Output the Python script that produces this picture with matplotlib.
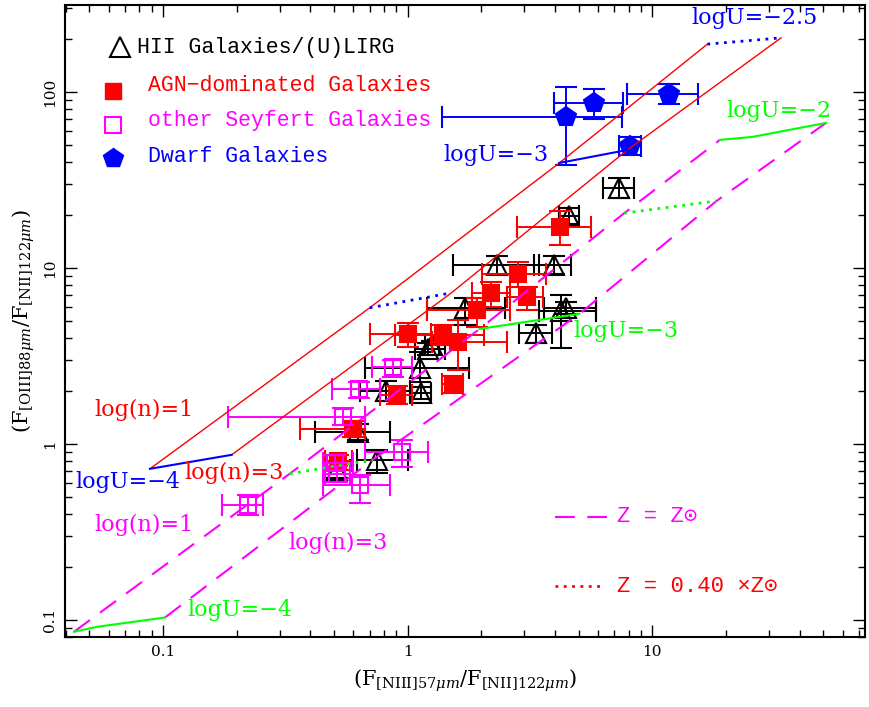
import numpy as np
import matplotlib
matplotlib.use('Agg')
import matplotlib.pyplot as plt
from matplotlib.ticker import FixedLocator, LogLocator, NullFormatter

plt.rcParams['mathtext.fontset'] = 'dejavuserif'

# ---------------- data ----------------
# HII galaxies / (U)LIRG  (x = NIII57/NII122, y = OIII88/NII122)
hii_x   = [7.33, 4.58, 2.31, 3.98, 1.72, 4.25, 4.46, 3.36, 1.21, 1.26, 1.12, 0.813, 1.13, 0.625, 0.747, 0.513]
hii_xlo = [6.31, 4.17, 1.53, 3.30, 1.20, 3.46, 3.62, 2.86, 1.07, 1.18, 0.668, 0.637, 1.02, 0.417, 0.619, 0.458]
hii_xhi = [8.45, 5.04, 3.46, 4.67, 2.49, 5.91, 5.91, 3.91, 1.42, 1.35, 1.79, 1.02, 1.25, 0.844, 1.00, 0.580]
hii_y   = [28.5, 19.7, 10.4, 10.4, 5.93, 5.70, 5.93, 4.27, 3.46, 3.65, 2.70, 2.00, 1.95, 1.17, 0.811, 0.712]
hii_ylo = [25.0, 17.8, 9.25, 9.25, 4.75, 3.51, 5.50, 3.75, 3.20, 3.45, 2.25, 1.75, 1.80, 1.05, 0.684, 0.641]
hii_yhi = [32.5, 21.9, 11.7, 11.7, 6.75, 7.02, 6.40, 4.75, 3.75, 3.85, 3.33, 2.28, 2.11, 1.30, 0.924, 0.790]

# AGN-dominated galaxies
agn_x   = [4.21, 2.84, 2.20, 3.09, 1.93, 1.00, 1.39, 1.61, 1.53, 0.902, 0.596, 0.518]
agn_xlo = [2.79, 2.02, 1.84, 2.54, 1.20, 0.700, 0.885, 1.26, 1.38, 0.769, 0.362, 0.458]
agn_xhi = [5.64, 3.69, 2.61, 3.56, 2.61, 1.25, 2.06, 2.56, 1.68, 1.04, 0.668, 0.591]
agn_y   = [17.1, 9.25, 7.21, 6.84, 5.77, 4.22, 4.16, 3.80, 2.19, 1.90, 1.22, 0.800]
agn_ylo = [13.5, 7.80, 6.00, 5.77, 4.62, 3.56, 3.65, 2.63, 1.95, 1.69, 1.10, 0.712]
agn_yhi = [21.1, 10.8, 8.33, 7.80, 6.75, 4.87, 4.75, 5.07, 2.43, 2.14, 1.35, 0.866]

# other Seyfert galaxies
sey_x   = [0.869, 0.631, 0.543, 0.945, 0.504, 0.513, 0.637, 0.222]
sey_xlo = [0.713, 0.490, 0.184, 0.668, 0.450, 0.458, 0.450, 0.174]
sey_xhi = [1.04, 0.769, 0.668, 1.21, 0.596, 0.580, 0.844, 0.256]
sey_y   = [2.74, 2.05, 1.42, 0.901, 0.780, 0.675, 0.585, 0.450]
sey_ylo = [2.40, 1.83, 1.28, 0.740, 0.712, 0.608, 0.462, 0.395]
sey_yhi = [3.00, 2.25, 1.60, 1.05, 0.866, 0.750, 0.667, 0.513]

# dwarf galaxies
dw_x   = [4.46, 5.80, 11.7, 8.13]
dw_xlo = [1.38, 3.98, 7.91, 7.33]
dw_xhi = [7.55, 7.62, 15.4, 9.02]
dw_y   = [72.1, 86.6, 97.5, 49.3]
dw_ylo = [38.5, 70.3, 85.5, 43.9]
dw_yhi = [106.7, 104.0, 111.0, 55.5]

# photoionisation model grids (logU = -4, -3.5, -3, -2.5, -2)
logU_levels = [-4, -3.5, -3, -2.5, -2]
sol_n1_x = [0.0433, 0.330, 1.97, 7.69, 18.9]
sol_n1_y = [0.0855, 0.676, 4.50, 20.5, 53.4]
sol_n3_x = [0.102, 0.720, 5.04, 18.3, 51.3]
sol_n3_y = [0.103, 0.811, 5.48, 24.0, 66.7]
sol_mid_x = {0: 0.0538, 4: 25.6}
sol_mid_y = {0: 0.0912, 4: 55.5}
sub_n1_x = [0.0885, 0.700, 4.17, 16.8]
sub_n1_y = [0.721, 5.93, 39.5, 187.0]
sub_n3_x = [0.191, 1.51, 7.91, 33.6]
sub_n3_y = [0.866, 7.21, 46.8, 203.0]

RED = '#ff0000'; MAG = '#ff00ff'; BLUE = '#0000ff'; GREEN = '#00ff00'

# ---------------- figure ----------------
fig = plt.figure(figsize=(8.7, 7.07), dpi=100)
ax = fig.add_axes([0.0747, 0.0990, 0.9195, 0.8939])
ax.set_xscale('log'); ax.set_yscale('log')
ax.set_xlim(0.0398, 74); ax.set_ylim(0.0798, 312)


def eb(x, y, xlo, xhi, ylo, yhi, color, marker, ms, filled, z):
    x = np.array(x); y = np.array(y)
    ax.errorbar(x, y, xerr=[x - np.array(xlo), np.array(xhi) - x],
                yerr=[y - np.array(ylo), np.array(yhi) - y],
                fmt=marker, color=color, ms=ms,
                mfc=color if filled else 'none', mec=color, mew=1.5,
                elinewidth=1.4, capsize=8, capthick=1.4, ls='none', zorder=z)


eb(hii_x, hii_y, hii_xlo, hii_xhi, hii_ylo, hii_yhi, 'black', '^', 15, False, 3)
eb(agn_x, agn_y, agn_xlo, agn_xhi, agn_ylo, agn_yhi, RED, 's', 11.5, True, 4)
eb(sey_x, sey_y, sey_xlo, sey_xhi, sey_ylo, sey_yhi, MAG, 's', 11, False, 5)
eb(dw_x, dw_y, dw_xlo, dw_xhi, dw_ylo, dw_yhi, BLUE, 'p', 15, True, 6)

# model tracks
dash = (0, (9.5, 6))
ax.plot(sol_n1_x, sol_n1_y, color=MAG, ls=dash, lw=1.5, zorder=7)
ax.plot(sol_n3_x, sol_n3_y, color=MAG, ls=dash, lw=1.5, zorder=7)
ax.plot(sub_n1_x, sub_n1_y, color=RED, lw=1.0, zorder=7)
ax.plot(sub_n3_x, sub_n3_y, color=RED, lw=1.0, zorder=7)
for i, lu in enumerate(logU_levels):
    style = '-' if float(lu).is_integer() else (0, (1, 2))
    lw = 1.5 if style == '-' else 2.0
    xs = [sol_n1_x[i]] + ([sol_mid_x[i]] if i in sol_mid_x else []) + [sol_n3_x[i]]
    ys = [sol_n1_y[i]] + ([sol_mid_y[i]] if i in sol_mid_y else []) + [sol_n3_y[i]]
    ax.plot(xs, ys, color=GREEN, ls=style, lw=lw, zorder=8)
    if i < len(sub_n1_x):
        ax.plot([sub_n1_x[i], sub_n3_x[i]], [sub_n1_y[i], sub_n3_y[i]],
                color=BLUE, ls=style, lw=lw, zorder=8)

# ---------------- axes styling ----------------
for s in ax.spines.values():
    s.set_linewidth(1.5)
ax.xaxis.set_major_locator(FixedLocator([0.1, 1, 10]))
ax.yaxis.set_major_locator(FixedLocator([0.1, 1, 10, 100]))
ax.xaxis.set_minor_locator(LogLocator(base=10, subs=np.arange(2, 10)))
ax.yaxis.set_minor_locator(LogLocator(base=10, subs=np.arange(2, 10)))
ax.xaxis.set_minor_formatter(NullFormatter())
ax.yaxis.set_minor_formatter(NullFormatter())
ax.set_xticklabels(['0.1', '1', '10'], family='DejaVu Serif', fontsize=11)
ax.set_yticklabels(['0.1', '1', '10', '100'], family='DejaVu Serif', fontsize=11,
                   rotation=90, va='center')
ax.tick_params(which='both', direction='in', top=True, right=True, width=1.0)
ax.tick_params(which='major', length=8.5, pad=6)
ax.tick_params(which='minor', length=5)

ax.set_xlabel(r'$(\mathrm{F}_{[\mathrm{NIII}]57\mu m}/\mathrm{F}_{[\mathrm{NII}]122\mu m})$',
              fontsize=15, labelpad=6)
ax.set_ylabel(r'$(\mathrm{F}_{[\mathrm{OIII}]88\mu m}/\mathrm{F}_{[\mathrm{NII}]122\mu m})$',
              fontsize=15, labelpad=4)

# ---------------- legend (top left) ----------------
T = ax.transAxes
mono = ['Liberation Mono', 'DejaVu Sans Mono', 'DejaVu Sans']
ax.plot([0.0687], [0.9335], '^', ms=15, mfc='none', mec='black', mew=1.5, transform=T)
ax.text(0.0899, 0.9335, 'HII Galaxies/(U)LIRG', color='black', fontsize=15.5,
        family=mono, va='center', transform=T)
ax.plot([0.0599], [0.864], 's', ms=11.5, color=RED, transform=T)
ax.text(0.1036, 0.872, 'AGN\u2212dominated Galaxies', color=RED, fontsize=15.5,
        family=mono, va='center', transform=T)
ax.plot([0.0599], [0.810], 's', ms=11, mfc='none', mec=MAG, mew=1.5, transform=T)
ax.text(0.1036, 0.818, 'other Seyfert Galaxies', color=MAG, fontsize=15.5,
        family=mono, va='center', transform=T)
ax.plot([0.0599], [0.758], 'p', ms=15, color=BLUE, transform=T)
ax.text(0.1036, 0.761, 'Dwarf Galaxies', color=BLUE, fontsize=15.5,
        family=mono, va='center', transform=T)

# bottom right legend
ax.plot([0.613, 0.677], [0.190, 0.190], color=MAG, ls=dash, lw=1.5, transform=T)
ax.text(0.690, 0.190, 'Z = Z\u2299', color=MAG, fontsize=16, family=mono,
        va='center', transform=T)
ax.plot([0.613, 0.672], [0.0807, 0.0807], color=RED, ls=(0, (1, 2)), lw=2, transform=T)
ax.text(0.690, 0.0807, 'Z = 0.40 \u00d7Z\u2299', color=RED, fontsize=16, family=mono,
        va='center', transform=T)

# model annotations
ser = 'DejaVu Serif'
labels = [
    (0.8615, 0.9794, 'logU=\u22122.5', BLUE),
    (0.8926, 0.8323, 'logU=\u22122', GREEN),
    (0.5393, 0.7627, 'logU=\u22123', BLUE),
    (0.7016, 0.4842, 'logU=\u22123', GREEN),
    (0.0986, 0.3592, 'log(n)=1', RED),
    (0.2110, 0.2595, 'log(n)=3', RED),
    (0.0787, 0.2453, 'logU=\u22124', BLUE),
    (0.0986, 0.1772, 'log(n)=1', MAG),
    (0.3408, 0.1487, 'log(n)=3', MAG),
    (0.2185, 0.0427, 'logU=\u22124', GREEN),
]
for fx, fy, s, c in labels:
    ax.text(fx, fy, s, color=c, fontsize=16, family=ser, ha='center', va='center',
            transform=T, zorder=9)

fig.savefig('out.png', dpi=100)
